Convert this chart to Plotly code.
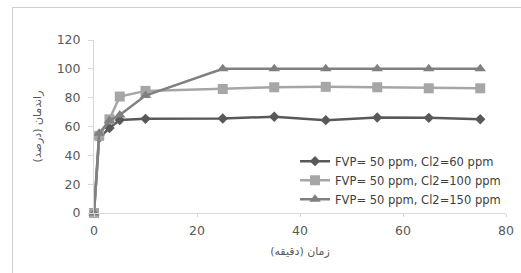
import plotly.graph_objects as go

time_min = [0, 1, 3, 5, 10, 25, 35, 45, 55, 65, 75]
cl60 = [0, 52, 59, 64.5, 65.3, 65.5, 66.8, 64.4, 66.2, 66, 65]
cl100 = [0, 53.5, 65, 80.8, 84.7, 86, 87.2, 87.5, 87.2, 86.5, 86.5]
cl150 = [0, 55.3, 64, 68, 81.5, 100, 100, 100, 100, 100, 100]
names = ["FVP= 50 ppm, Cl2=60 ppm", "FVP= 50 ppm, Cl2=100 ppm", "FVP= 50 ppm, Cl2=150 ppm"]
x_ticks = [0, 20, 40, 60, 80]
y_ticks = [0, 20, 40, 60, 80, 100, 120]

fig = go.Figure()
styles = [("#595959", "diamond", 8), ("#A6A6A6", "square", 10), ("#808080", "triangle-up", 10)]
for ys, nm, (c, sym, sz) in zip([cl60, cl100, cl150], names, styles):
    fig.add_trace(go.Scatter(x=time_min, y=ys, name=nm, mode="lines+markers",
                             line=dict(color=c, width=2.5), cliponaxis=False,
                             marker=dict(color=c, symbol=sym, size=sz)))

fig.update_layout(
    width=521, height=273,
    margin=dict(l=94, r=15, t=40, b=60, autoexpand=False),
    paper_bgcolor="white", plot_bgcolor="white",
    font=dict(family="DejaVu Sans, Arial", size=11, color="#595959"),
    showlegend=True,
    legend=dict(x=1.0, xanchor="right", y=0.19, yanchor="middle",
                bgcolor="rgba(0,0,0,0)", font=dict(size=11.5, color="#404040"),
                tracegroupgap=0, itemwidth=30),
    xaxis=dict(range=[0, 80], tickvals=x_ticks, showgrid=False, zeroline=False,
               showline=True, linecolor="#D9D9D9", linewidth=1, automargin=False,
               ticks="outside", ticklen=3, tickcolor="#D9D9D9", ticklabelstandoff=3,
               tickfont=dict(size=12.5, color="#595959"),
               title=dict(text="زمان (دقیقه)", font=dict(size=11, color="#595959"), standoff=10)),
    yaxis=dict(range=[0, 120], tickvals=y_ticks, showgrid=False, zeroline=False,
               showline=True, linecolor="#D9D9D9", linewidth=1, automargin=False,
               ticks="outside", ticklen=5, tickcolor="#D9D9D9", ticklabelstandoff=5,
               tickfont=dict(size=12.5, color="#595959"),
               title=dict(text="راندمان (درصد)", font=dict(size=11, color="#595959"), standoff=12)),
)
post = """
document.body.style.margin='0';
document.body.style.overflow='hidden';
var fr=document.createElement('div');
fr.style.cssText='position:absolute;left:12px;top:7px;width:700px;height:500px;border:1px solid #D0D0D0;pointer-events:none;';
document.body.appendChild(fr);
"""
fig.write_html("out.html", config={"displayModeBar": False}, post_script=post)
